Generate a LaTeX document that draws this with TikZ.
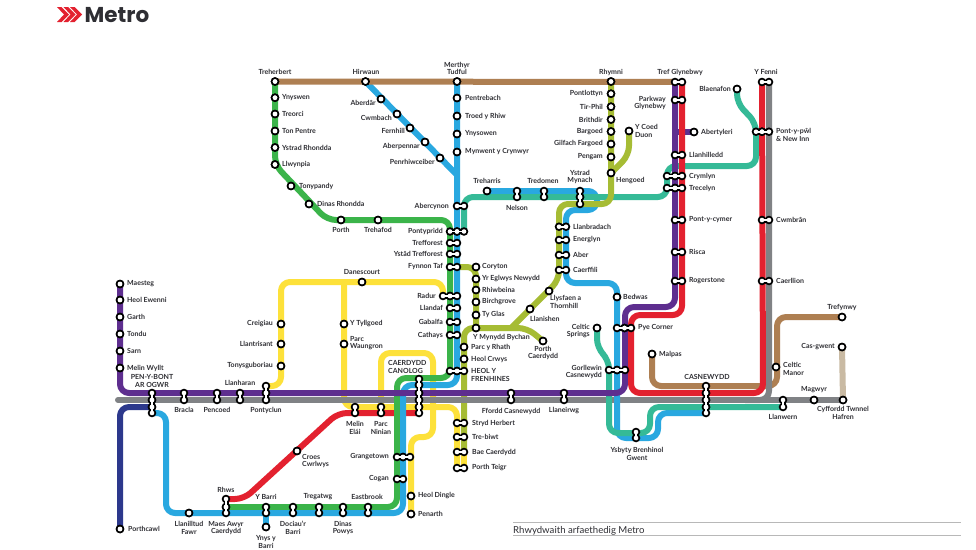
\documentclass[tikz,border=0pt]{standalone}
\usepackage{fontspec}
\setmainfont{Lato}
\newfontfamily\logofont{Poppins}
\definecolor{cbrown}{HTML}{AE7F52}
\definecolor{cbeige}{HTML}{C9BAA3}
\definecolor{cgreen}{HTML}{3BB44A}
\definecolor{cblue}{HTML}{29A8E0}
\definecolor{cteal}{HTML}{35BA97}
\definecolor{cpurple}{HTML}{5E2E8F}
\definecolor{cred}{HTML}{E3212F}
\definecolor{cgrey}{HTML}{808285}
\definecolor{cyellow}{HTML}{FDE13A}
\definecolor{colive}{HTML}{A6BC34}
\definecolor{cnavy}{HTML}{2C388C}
\definecolor{ctext}{HTML}{2E2E33}
\tikzset{
  track/.style={line width=6pt,rounded corners=9pt,line join=round},
  lbl/.style={font=\fontsize{7}{7.5}\selectfont\bfseries,text=ctext,inner sep=0pt},
}
\newcounter{labn}
\newcommand{\lab}[4]{\stepcounter{labn}\node[lbl,anchor=#1,align=#4] (lab\thelabn) at #2 {#3};}
% west / east / centre label shorthands
\newcommand{\lW}[3]{\lab{west}{(#1,#2)}{#3}{left}}
\newcommand{\lE}[3]{\lab{east}{(#1,#2)}{#3}{right}}
\newcommand{\lC}[3]{\lab{center}{(#1,#2)}{#3}{center}}
\newcommand{\stn}[3]{\coordinate (#1) at (#2,#3);}
\newcommand{\bone}[1]{%
  \foreach \sa/\sb in {#1} {\fill[black] (\sa) circle (4.3pt); \fill[black] (\sb) circle (4.3pt); \draw[black,line width=5pt] (\sa)--(\sb);}
  \foreach \sa/\sb in {#1} {\draw[white,line width=1.6pt] (\sa)--(\sb); \fill[white] (\sa) circle (2.3pt); \fill[white] (\sb) circle (2.3pt);}
}
\begin{document}
\begin{tikzpicture}[x=1pt,y=-1pt]
\useasboundingbox (0,0) rectangle (976,549);
\fill[white] (0,0) rectangle (976,549);
% --- stations
\stn{treherbert}{275}{81.5}\stn{hirwaun}{365.5}{81.5}\stn{merthyr}{457}{81.5}\stn{rhymni}{611}{81.5}
\stn{trefP}{675}{82}\stn{trefR}{682}{82}
\stn{ynyswen}{275}{97.7}\stn{treorci}{275}{114}\stn{tonpentre}{275}{131}\stn{ystradrh}{275}{147.5}\stn{llwynpia}{275}{164.5}
\stn{tonypandy}{291}{186}\stn{dinasrh}{309}{204}\stn{porth}{341}{220}\stn{trehafod}{378}{220}
\stn{aberdar}{381}{99}\stn{cwmbach}{397}{114}\stn{fernhill}{410}{128}\stn{aberpennar}{425}{142}\stn{penrhiw}{440}{158}
\stn{pentrebach}{457}{98}\stn{troed}{457}{116}\stn{ynysowen}{457}{134}\stn{mynwent}{457}{152}
\stn{abercB}{457}{206}\stn{abercT}{464}{206}
\stn{pontyG}{450}{231.5}\stn{pontyB}{457}{231.5}\stn{pontyT}{464}{231.5}
\stn{treffG}{450}{243}\stn{treffB}{457}{243}
\stn{ystadG}{450}{254}\stn{ystadB}{457}{254}
\stn{fynG}{450}{267}\stn{fynB}{457}{267}
\stn{radY}{443}{296}\stn{radG}{450}{296}\stn{radB}{457}{296}
\stn{llandG}{450}{308}\stn{llandB}{457}{308}
\stn{gabG}{450}{322}\stn{gabB}{457}{322}
\stn{cathG}{450}{335}\stn{cathB}{457}{335}
\stn{heolG}{450}{371}\stn{heolB}{457}{371}\stn{heolO}{464}{371}
\stn{parcrhath}{464}{347}\stn{heolcrwys}{464}{359}
\stn{coryton}{476}{267}\stn{eglwys}{476}{279}\stn{rhiwbeina}{476}{290}\stn{birch}{476}{302}\stn{tyglas}{476}{315}\stn{mynydd}{476}{328}
\stn{llysfaen}{549}{291}\stn{llanishen}{530}{309}\stn{porthc}{543}{341}
\stn{pontlottyn}{611}{93.7}\stn{tirphil}{611}{106.7}\stn{brithdir}{611}{119.5}\stn{bargoed}{611}{131.5}\stn{gilfach}{611}{144}\stn{pengam}{611}{157}\stn{hengoed}{611}{173}
\stn{coedduon}{629}{131}
\stn{treharris}{487}{191}\stn{nelsB}{517}{191}\stn{nelsT}{517}{197}\stn{tredB}{544}{191}\stn{tredT}{544}{197}
\stn{ymB}{580}{191}\stn{ymT}{580}{197}\stn{ymO}{580}{204}
\stn{lbO}{559}{226.7}\stn{lbB}{566}{226.7}\stn{enO}{559}{240}\stn{enB}{566}{240}\stn{abO}{559}{255}\stn{abB}{566}{255}\stn{caO}{559}{270}\stn{caB}{566}{270}
\stn{parkP}{675}{100}\stn{parkR}{682}{100}\stn{abertyleri}{694}{132}
\stn{hilP}{675}{155}\stn{hilR}{682}{155}
\stn{cryT}{667}{176}\stn{cryP}{675}{176}\stn{cryR}{682}{176}
\stn{treT}{667}{188}\stn{treP}{675}{188}\stn{treR}{682}{188}
\stn{cymP}{675}{220}\stn{cymR}{682}{220}\stn{risP}{675}{252}\stn{risR}{682}{252}\stn{rogP}{675}{281}\stn{rogR}{682}{281}
\stn{fenR}{762}{82}\stn{fenG}{769}{82}
\stn{pyT}{756}{131.7}\stn{pyR}{762}{131.7}\stn{pyG}{769}{131.7}
\stn{cwmR}{762}{220}\stn{cwmG}{769}{220}\stn{calR}{762}{281}\stn{calG}{769}{281}
\stn{blaenafon}{737}{89}
\stn{bedwas}{617}{297}
\stn{pyeB}{617}{328}\stn{pyeP}{624.5}{328}\stn{pyeR}{631}{328}
\stn{celticsp}{597}{328}
\stn{gorT}{609}{370}\stn{gorB}{617}{370}\stn{gorP}{625}{370}
\stn{malpas}{652}{354}
\stn{casA}{706}{386}\stn{casB}{706}{393}\stn{casC}{706}{400}\stn{casD}{706}{407}\stn{casE}{706}{413}
\stn{ybB}{636}{432}\stn{ybT}{636}{438}
\stn{lleP}{564}{393}\stn{lleG}{564}{400}\stn{ffoP}{511}{393}\stn{ffoG}{511}{400}
\stn{trefynwy}{842}{317}\stn{casgwent}{842}{347}\stn{celticm}{776}{367}\stn{magwyr}{814}{400}\stn{hafren}{843}{400}
\stn{wernG}{783}{400}\stn{wernT}{783}{407}
\stn{maesteg}{120}{284}\stn{ewenni}{120}{300}\stn{garth}{120}{317}\stn{tondu}{120}{334}\stn{sarn}{120}{351}\stn{melinw}{120}{368}
\stn{penA}{152}{393}\stn{penB}{152}{400}\stn{penC}{152}{407}\stn{penD}{152}{413}
\stn{braP}{184}{393}\stn{braG}{184}{400}\stn{pencP}{217}{393}\stn{pencG}{217}{400}\stn{lhaP}{240}{393}\stn{lhaG}{240}{400}
\stn{clY}{266}{386}\stn{clP}{266}{393}\stn{clG}{266}{400}
\stn{creigiau}{281}{324}\stn{llantrisant}{281}{344}\stn{tonysg}{281}{366}
\stn{tyllgoed}{344}{324}\stn{waungron}{344}{344}\stn{danescourt}{362}{282}
\stn{melY}{355}{407}\stn{melR}{355}{413}\stn{ninY}{381}{407}\stn{ninR}{381}{413}
\stn{canA}{419}{379}\stn{canB}{419}{385}\stn{canC}{419}{393}\stn{canD}{419}{400}\stn{canE}{419}{407}\stn{canF}{419}{413}
\stn{croes}{297}{451}
\stn{rhwsR}{226}{499}\stn{rhwsG}{226}{507}\stn{rhwsB}{226}{513}
\stn{llanill}{189}{513}\stn{barG}{266}{507}\stn{barB}{266}{513}\stn{ynysbarri}{266}{527}
\stn{docG}{293}{507}\stn{docB}{293}{513}\stn{tgG}{319}{507}\stn{tgB}{319}{513}\stn{dpG}{343}{507}\stn{dpB}{343}{513}\stn{ebG}{368}{507}\stn{ebB}{368}{513}
\stn{graG}{397}{457}\stn{graB}{403}{457}\stn{graY}{410}{457}\stn{cogG}{397}{479}\stn{cogB}{403}{479}
\stn{dingle}{411}{496}\stn{penarth}{411}{514}\stn{porthcawl}{120}{529}
\stn{stryY}{457}{423}\stn{stryO}{464}{423}\stn{biwY}{457}{437}\stn{biwO}{464}{437}\stn{baeY}{457}{452}\stn{baeO}{464}{452}\stn{teiY}{457}{468}\stn{teiO}{464}{468}
% --- tracks
\draw[track,cbrown] (malpas)--(652,386)--(777,386)--(777,317)--(trefynwy);
\draw[track,cbeige] (casgwent)--(hafren);
\draw[track,cyellow] (clY)--(281,386)--(281,282)--(443,282)--(radY);
\draw[track,cyellow] (344,282)--(344,407)--(457,407)--(teiY);
\draw[track,cyellow] (ninY)--(381,353)--(433,353)--(433,437)--(411,437)--(penarth);
\draw[track,cyellow] (464,415)--(teiO);
\draw[track,colive] (mynydd)--(464,328)--(baeO);
\draw[track,cred] (rhwsR)--(244,499)--(338,413)--(canF);
\draw[track,cgrey,line cap=round] (118,400)--(hafren);
\draw[track,cgrey] (fenG)--(769,400)--(745,400);
\draw[track,cnavy] (penC)--(120,407)--(porthcawl);
\draw[track,cgreen] (treherbert)--(275,165)--(327,220)--(450,220)--(450,378)--(397,378)--(397,507)--(rhwsG);
\draw[track,cblue,rounded corners=1pt] (hirwaun)--(457,175);
\draw[track,cblue] (merthyr)--(457,385)--(403,385)--(403,513)--(166,513)--(166,413)--(penD);
\draw[track,cblue] (barB)--(ynysbarri);
\draw[track,cblue] (treharris)--(597,191)--(597,210)--(566,210)--(566,283)--(617,283)--(617,438)--(658,438)--(658,413)--(casE);
\draw[track,cteal] (pontyT)--(464,197)--(667,197)--(667,166)--(756,166)--(756,123)--(737,103)--(blaenafon);
\draw[track,cteal] (celticsp)--(597,348)--(609,360)--(609,433)--(650,433)--(650,407)--(wernT);
\draw[track,colive] (rhymni)--(611,204)--(559,204)--(559,280)--(512,327);
\draw[track,colive] (mynydd)--(527,328)--(porthc);
\draw[track,colive] (fynB)--(476,267)--(mynydd);
\draw[track,colive] (coedduon)--(629,155)--(hengoed);
\draw[track,cpurple] (maesteg)--(120,393)--(625,393)--(625,307)--(675,307)--(trefP);
\draw[track,cpurple] (675,132)--(abertyleri);
\draw[track,cred] (trefR)--(682,315)--(631,315)--(631,393)--(763,393)--(fenR);
\draw[track,cbrown] (treherbert)--(trefP);
% --- station marks
\bone{treherbert/treherbert,hirwaun/hirwaun,merthyr/merthyr,rhymni/rhymni,ynyswen/ynyswen,treorci/treorci,tonpentre/tonpentre,ystradrh/ystradrh,llwynpia/llwynpia,tonypandy/tonypandy,dinasrh/dinasrh,porth/porth,trehafod/trehafod}
\bone{aberdar/aberdar,cwmbach/cwmbach,fernhill/fernhill,aberpennar/aberpennar,penrhiw/penrhiw,pentrebach/pentrebach,troed/troed,ynysowen/ynysowen,mynwent/mynwent}
\bone{trefP/trefR}\bone{abercB/abercT}\bone{pontyG/pontyB,pontyB/pontyT}\bone{treffG/treffB}\bone{ystadG/ystadB}\bone{fynG/fynB}
\bone{radY/radG,radG/radB}\bone{llandG/llandB}\bone{gabG/gabB}\bone{cathG/cathB}\bone{heolG/heolB,heolB/heolO}
\bone{parcrhath/parcrhath,heolcrwys/heolcrwys,coryton/coryton,eglwys/eglwys,rhiwbeina/rhiwbeina,birch/birch,tyglas/tyglas,mynydd/mynydd,llysfaen/llysfaen,llanishen/llanishen,porthc/porthc}
\bone{pontlottyn/pontlottyn,tirphil/tirphil,brithdir/brithdir,bargoed/bargoed,gilfach/gilfach,pengam/pengam,hengoed/hengoed,coedduon/coedduon,treharris/treharris}
\bone{nelsB/nelsT}\bone{tredB/tredT}\bone{ymB/ymT,ymT/ymO}\bone{lbO/lbB}\bone{enO/enB}\bone{abO/abB}\bone{caO/caB}
\bone{parkP/parkR}\bone{abertyleri/abertyleri}\bone{hilP/hilR}\bone{cryT/cryP,cryP/cryR}\bone{treT/treP,treP/treR}\bone{cymP/cymR}\bone{risP/risR}\bone{rogP/rogR}
\bone{fenR/fenG}\bone{pyT/pyR,pyR/pyG}\bone{cwmR/cwmG}\bone{calR/calG}\bone{blaenafon/blaenafon,bedwas/bedwas,celticsp/celticsp,malpas/malpas}
\bone{pyeB/pyeP,pyeP/pyeR}\bone{gorT/gorB,gorB/gorP}\bone{casA/casB,casB/casC,casC/casD,casD/casE}\bone{ybB/ybT}\bone{lleP/lleG}\bone{ffoP/ffoG}
\bone{trefynwy/trefynwy,casgwent/casgwent,celticm/celticm,magwyr/magwyr,hafren/hafren}\bone{wernG/wernT}
\bone{maesteg/maesteg,ewenni/ewenni,garth/garth,tondu/tondu,sarn/sarn,melinw/melinw}
\bone{penA/penB,penB/penC,penC/penD}\bone{braP/braG}\bone{pencP/pencG}\bone{lhaP/lhaG}\bone{clY/clP,clP/clG}
\bone{creigiau/creigiau,llantrisant/llantrisant,tonysg/tonysg,tyllgoed/tyllgoed,waungron/waungron,danescourt/danescourt}
\bone{melY/melR}\bone{ninY/ninR}\bone{canA/canB,canB/canC,canC/canD,canD/canE,canE/canF}
\bone{croes/croes,llanill/llanill,ynysbarri/ynysbarri,dingle/dingle,penarth/penarth,porthcawl/porthcawl}
\bone{rhwsR/rhwsG,rhwsG/rhwsB}\bone{barG/barB}\bone{docG/docB}\bone{tgG/tgB}\bone{dpG/dpB}\bone{ebG/ebB}
\bone{graG/graB,graB/graY}\bone{cogG/cogB}\bone{stryY/stryO}\bone{biwY/biwO}\bone{baeY/baeO}\bone{teiY/teiO}
% --- labels
\lC{275}{72}{Treherbert}\lC{366}{72}{Hirwaun}\lC{457}{68.5}{Merthyr\\Tudful}\lC{611}{72}{Rhymni}\lC{680}{72}{Tref Glynebwy}\lC{766}{72}{Y Fenni}
\lE{731}{89}{Blaenafon}
\lW{282}{97.7}{Ynyswen}\lW{282}{114}{Treorci}\lW{282}{131}{Ton Pentre}\lW{282}{147.5}{Ystrad Rhondda}\lW{282}{164.5}{Llwynpia}
\lW{299}{186}{Tonypandy}\lW{317}{204}{Dinas Rhondda}\lC{341}{229.5}{Porth}\lC{378}{229.5}{Trehafod}
\lE{376}{103}{Aberdâr}\lE{392}{118}{Cwmbach}\lE{405}{131}{Fernhill}\lE{420}{146}{Aberpennar}\lE{435}{162}{Penrhiwceiber}
\lW{465}{98}{Pentrebach}\lW{465}{116}{Troed y Rhiw}\lW{465}{134}{Ynysowen}\lW{465}{152}{Mynwent y Crynwyr}
\lE{449}{206}{Abercynon}\lE{443}{231.5}{Pontypridd}\lE{443}{243}{Trefforest}\lE{443}{254}{Ystâd Trefforest}\lE{443}{267}{Fynnon Taf}
\lE{436}{296}{Radur}\lE{443}{308}{Llandaf}\lE{443}{322}{Gabalfa}\lE{443}{335}{Cathays}
\lW{482}{267}{Coryton}\lW{482}{279}{Yr Eglwys Newydd}\lW{482}{290}{Rhiwbeina}\lW{482}{302}{Birchgrove}\lW{482}{314}{Ty Glas}
\lW{473}{337}{Y Mynydd Bychan}\lW{471}{347}{Parc y Rhath}\lW{471}{359}{Heol Crwys}\lW{471}{375}{HEOL Y\\FRENHINES}
\lW{530}{319}{Llanishen}\lW{550}{302}{Llysfaen a\\Thornhill}\lC{543}{353}{Porth\\Caerdydd}
\lE{590}{331}{Celtic\\Springs}\lE{602}{372}{Gorllewin\\Casnewydd}
\lW{623}{297}{Bedwas}\lW{638}{328}{Pye Corner}\lW{659}{354}{Malpas}\lC{707}{377}{CASNEWYDD}
\lC{564}{411}{Llaneirwg}\lC{511}{411}{Ffordd Casnewydd}\lC{637}{454}{Ysbyty Brenhinol\\Gwent}
\lW{573}{227}{Llanbradach}\lW{573}{240}{Energlyn}\lW{573}{255}{Aber}\lW{573}{270}{Caerffili}
\lC{487}{181}{Treharris}\lC{517}{208}{Nelson}\lC{543}{181}{Tredomen}\lC{580}{177}{Ystrad\\Mynach}\lW{616}{181}{Hengoed}
\lE{603}{93.7}{Pontlottyn}\lE{603}{106.7}{Tir-Phil}\lE{603}{119.5}{Brithdir}\lE{603}{131.5}{Bargoed}\lE{603}{144}{Gilfach Fargoed}\lE{603}{157}{Pengam}
\lW{635}{131}{Y Coed\\Duon}\lE{666}{103}{Parkway\\Glynebwy}
\lW{701}{132}{Abertyleri}\lW{689}{155}{Llanhilledd}\lW{689}{176}{Crymlyn}\lW{689}{188}{Trecelyn}\lW{689}{220}{Pont-y-cymer}\lW{689}{252}{Risca}\lW{689}{281}{Rogerstone}
\lW{776}{135}{Pont-y-pŵl\\\& New Inn}\lW{776}{220}{Cwmbrân}\lW{776}{281}{Caerllion}
\lC{842}{308}{Trefynwy}\lE{835}{347}{Cas-gwent}\lW{783}{369}{Celtic\\Manor}\lC{814}{390}{Magwyr}\lC{843}{413}{Cyffordd Twnnel\\Hafren}\lC{783}{417}{Llanwern}
\lW{127}{284}{Maesteg}\lW{127}{300}{Heol Ewenni}\lW{127}{317}{Garth}\lW{127}{334}{Tondu}\lW{127}{351}{Sarn}\lW{127}{368}{Melin Wyllt}
\lC{152}{381}{PEN-Y-BONT\\AR OGWR}\lC{184}{410}{Bracla}\lC{217}{410}{Pencoed}\lC{266}{410}{Pontyclun}\lC{240}{383}{Llanharan}
\lE{273}{324}{Creigiau}\lE{273}{344}{Llantrisant}\lE{273}{366}{Tonysguboriau}
\lW{350}{324}{Y Tyllgoed}\lW{350}{343}{Parc\\Waungron}\lC{362}{272}{Danescourt}
\lW{388}{367}{CAERDYDD\\CANOLOG}
\lC{355}{428}{Melin\\Elái}\lC{381}{428}{Parc\\Ninian}\lW{302}{461}{Croes\\Cwrlwys}
\lC{226}{490}{Rhws}\lC{226}{528}{Maes Awyr\\Caerdydd}\lC{189}{528}{Llanilltud\\Fawr}\lC{266}{497}{Y Barri}\lC{266}{542}{Ynys y\\Barri}
\lC{293}{528}{Dociau'r\\Barri}\lC{318}{497}{Tregatwg}\lC{343}{528}{Dinas\\Powys}\lC{367}{497}{Eastbrook}\lW{128}{529}{Porthcawl}
\lE{389}{457}{Grangetown}\lE{389}{479}{Cogan}\lW{418}{496}{Heol Dingle}\lW{418}{514}{Penarth}
\lW{472}{423}{Stryd Herbert}\lW{472}{437}{Tre-biwt}\lW{472}{452}{Bae Caerdydd}\lW{472}{468}{Porth Teigr}
% --- logo
\foreach \off in {0,6.5,13} {\fill[cred] (57+\off,7)--(61.5+\off,7)--(69+\off,14.5)--(61.5+\off,22)--(57+\off,22)--(64+\off,14.5)--cycle;}
\node[anchor=base west,inner sep=0pt,font=\logofont\fontsize{21.5}{22}\selectfont\bfseries,text=ctext] (logo) at (84.5,22) {Metro};
% --- caption
\draw[black!28,line width=1pt] (513,522.7)--(961,522.7);
\draw[black!28,line width=1pt] (513,535.7)--(961,535.7);
\node[anchor=base west,inner sep=0pt,font=\fontsize{9.6}{10}\selectfont,text=ctext] (caption) at (513,533.5) {Rhwydwaith arfaethedig Metro};
\end{tikzpicture}
\end{document}
